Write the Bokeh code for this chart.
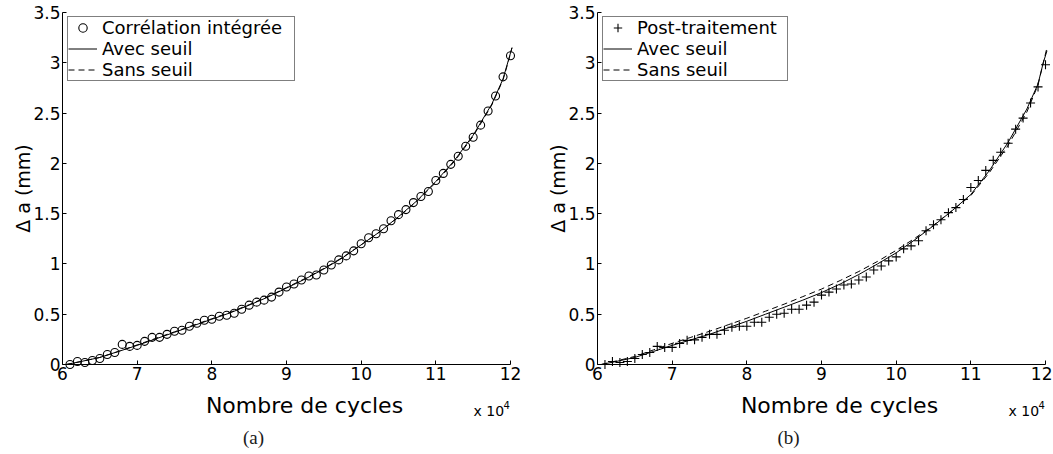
import math
from bokeh.plotting import figure
from bokeh.layouts import row
from bokeh.models import Range1d, FixedTicker, Label, Legend, LegendItem
from bokeh.embed import file_html
from bokeh.resources import INLINE

# ---------------- data (cycles in units of 10^4) ----------------
cycles = [6.1, 6.2, 6.3, 6.4, 6.5, 6.6, 6.7, 6.8, 6.9, 7.0,
          7.1, 7.2, 7.3, 7.4, 7.5, 7.6, 7.7, 7.8, 7.9, 8.0,
          8.1, 8.2, 8.3, 8.4, 8.5, 8.6, 8.7, 8.8, 8.9, 9.0,
          9.1, 9.2, 9.3, 9.4, 9.5, 9.6, 9.7, 9.8, 9.9, 10.0,
          10.1, 10.2, 10.3, 10.4, 10.5, 10.6, 10.7, 10.8, 10.9, 11.0,
          11.1, 11.2, 11.3, 11.4, 11.5, 11.6, 11.7, 11.8, 11.9, 12.0]

correlation_integree = [0.00, 0.03, 0.02, 0.04, 0.06, 0.10, 0.12, 0.20, 0.18, 0.19,
                        0.23, 0.27, 0.27, 0.30, 0.33, 0.34, 0.38, 0.41, 0.44, 0.45,
                        0.48, 0.49, 0.51, 0.55, 0.59, 0.62, 0.64, 0.67, 0.72, 0.77,
                        0.80, 0.84, 0.88, 0.89, 0.94, 0.99, 1.04, 1.08, 1.13, 1.20,
                        1.26, 1.30, 1.35, 1.43, 1.49, 1.54, 1.61, 1.67, 1.72, 1.83,
                        1.90, 1.99, 2.07, 2.17, 2.26, 2.38, 2.52, 2.67, 2.86, 3.07]

post_traitement = [0.00, 0.03, 0.02, 0.03, 0.06, 0.10, 0.12, 0.18, 0.17, 0.17,
                   0.21, 0.24, 0.245, 0.27, 0.30, 0.30, 0.34, 0.37, 0.38, 0.38,
                   0.42, 0.42, 0.47, 0.50, 0.51, 0.55, 0.55, 0.59, 0.62, 0.69,
                   0.72, 0.75, 0.79, 0.80, 0.84, 0.87, 0.94, 0.98, 1.03, 1.07,
                   1.15, 1.18, 1.23, 1.33, 1.39, 1.44, 1.51, 1.56, 1.64, 1.76,
                   1.83, 1.93, 2.03, 2.11, 2.20, 2.34, 2.45, 2.60, 2.76, 2.98]

curve_cycles = [6.05, 6.25, 6.5, 6.75, 7.0, 7.25, 7.5, 7.75, 8.0, 8.25, 8.5, 8.75,
                9.0, 9.25, 9.5, 9.75, 10.0, 10.25, 10.5, 10.75, 11.0, 11.25, 11.5,
                11.75, 11.9, 11.97, 12.02]

avec_seuil_a = [0.00, 0.03, 0.07, 0.13, 0.19, 0.255, 0.32, 0.385, 0.45, 0.515, 0.59, 0.67,
                0.76, 0.85, 0.95, 1.06, 1.19, 1.32, 1.47, 1.63, 1.82, 2.03, 2.28,
                2.59, 2.84, 3.02, 3.15]
sans_seuil_a = [0.00, 0.03, 0.07, 0.13, 0.195, 0.26, 0.325, 0.39, 0.455, 0.52, 0.595, 0.675,
                0.765, 0.855, 0.955, 1.065, 1.19, 1.32, 1.465, 1.625, 1.81, 2.02, 2.27,
                2.58, 2.83, 3.01, 3.15]

avec_seuil_b = [0.00, 0.03, 0.07, 0.13, 0.19, 0.245, 0.30, 0.365, 0.43, 0.50, 0.57, 0.64,
                0.715, 0.80, 0.895, 1.00, 1.11, 1.24, 1.38, 1.53, 1.69, 1.93, 2.21,
                2.54, 2.79, 3.00, 3.12]
sans_seuil_b = [0.00, 0.035, 0.08, 0.145, 0.21, 0.27, 0.33, 0.395, 0.46, 0.53, 0.60, 0.675,
                0.75, 0.835, 0.925, 1.025, 1.135, 1.255, 1.385, 1.53, 1.68, 1.91, 2.18,
                2.51, 2.78, 3.00, 3.15]

x_ticks = [6, 7, 8, 9, 10, 11, 12]
x_tick_labels = ["6", "7", "8", "9", "10", "11", "12"]
y_ticks = [0, 0.5, 1, 1.5, 2, 2.5, 3, 3.5]
y_tick_labels = ["0", "0.5", "1", "1.5", "2", "2.5", "3", "3.5"]

x_title = "Nombre de cycles"
y_title = "Δ a (mm)"
x_multiplier = ("x 10", "4")

SANS = "DejaVu Sans"
SERIF = "Liberation Serif"

# ---------------- layout constants (pixels inside each panel canvas) ----------------
H = 452
AX_LEFT, AX_RIGHT = 62, 510      # pixel of x = 6 and x = 12
AX_BOTTOM, AX_TOP = 364, 12      # pixel of y = 0 and y = 3.5
LEGEND_H = 66
X_MIN, X_MAX = x_ticks[0], x_ticks[-1]
Y_MIN, Y_MAX = y_ticks[0], y_ticks[-1]


def make_panel(width, points, marker, marker_size, point_label, avec, sans, caption,
               label_width):
    xs = (AX_RIGHT - AX_LEFT) / (X_MAX - X_MIN)
    ys = (AX_BOTTOM - AX_TOP) / (Y_MAX - Y_MIN)
    x_range = Range1d(X_MIN - AX_LEFT / xs, X_MIN + (width - AX_LEFT) / xs)
    y_range = Range1d(Y_MIN - (H - AX_BOTTOM) / ys, Y_MAX + AX_TOP / ys)

    p = figure(width=width, height=H, output_backend="svg", toolbar_location=None,
               x_range=x_range, y_range=y_range,
               min_border_left=0, min_border_right=0, min_border_top=0, min_border_bottom=0)
    p.outline_line_color = None
    p.xgrid.visible = False
    p.ygrid.visible = False

    r_avec = p.line(curve_cycles, avec, line_color="black", line_width=1)
    r_sans = p.line(curve_cycles, sans, line_color="black", line_width=1, line_dash="6 4")
    r_pts = p.scatter(cycles, points, marker=marker, size=marker_size,
                      fill_color=None, line_color="black", line_width=1.1)

    xa = p.xaxis[0]
    ya = p.yaxis[0]
    xa.fixed_location = Y_MIN
    ya.fixed_location = X_MIN
    xa.bounds = (X_MIN, X_MAX)
    ya.bounds = (Y_MIN, Y_MAX)
    xa.ticker = FixedTicker(ticks=x_ticks)
    ya.ticker = FixedTicker(ticks=y_ticks)
    xa.major_label_overrides = dict(zip(x_ticks, x_tick_labels))
    ya.major_label_overrides = dict(zip(y_ticks, y_tick_labels))
    for ax in (xa, ya):
        ax.axis_line_color = "black"
        ax.axis_line_width = 1
        ax.major_tick_in = 4
        ax.major_tick_out = 0
        ax.major_tick_line_color = "black"
        ax.minor_tick_line_color = None
        ax.major_label_text_font = SANS
        ax.major_label_text_font_size = "17px"
        ax.major_label_text_color = "black"
        ax.major_label_standoff = 2

    legend = Legend(items=[LegendItem(label=point_label, renderers=[r_pts]),
                           LegendItem(label="Avec seuil", renderers=[r_avec]),
                           LegendItem(label="Sans seuil", renderers=[r_sans])],
                    location=(AX_LEFT + 5, H - 15 - LEGEND_H), margin=0, padding=0,
                    spacing=0, glyph_width=29, glyph_height=21, label_height=21,
                    label_width=label_width, label_standoff=5,
                    label_text_font=SANS, label_text_font_size="18px",
                    label_text_color="black",
                    border_line_color="black", border_line_width=1,
                    background_fill_color="white", background_fill_alpha=1)
    p.add_layout(legend)

    def lab(x, page_y, text, size, align="left", font=SANS, color="black",
            angle=0.0, baseline="alphabetic"):
        p.add_layout(Label(x=x, y=H - page_y, x_units="screen", y_units="screen",
                           text=text, text_font=font, text_font_size=size,
                           text_color=color, text_align=align, text_baseline=baseline,
                           angle=angle))

    lab(AX_LEFT + 242, 405, x_title, "22px", align="center")
    lab(AX_LEFT + 411, 410, x_multiplier[0], "14px")
    lab(AX_LEFT + 441, 404, x_multiplier[1], "10px")
    lab(22, (AX_TOP + AX_BOTTOM) / 2, y_title, "19px", align="center",
        angle=math.pi / 2, baseline="middle")
    lab(253, 437, caption, "19px", align="center", font=SERIF, color="#1a1a1a",
        baseline="middle")
    return p


pa = make_panel(535, correlation_integree, "circle", 8, "Corrélation intégrée",
                avec_seuil_a, sans_seuil_a, "(a)", 192)
pb = make_panel(517, post_traitement, "cross", 9, "Post-traitement",
                avec_seuil_b, sans_seuil_b, "(b)", 150)

layout = row(pa, pb)
open("out.html", "w").write(file_html(layout, INLINE))
